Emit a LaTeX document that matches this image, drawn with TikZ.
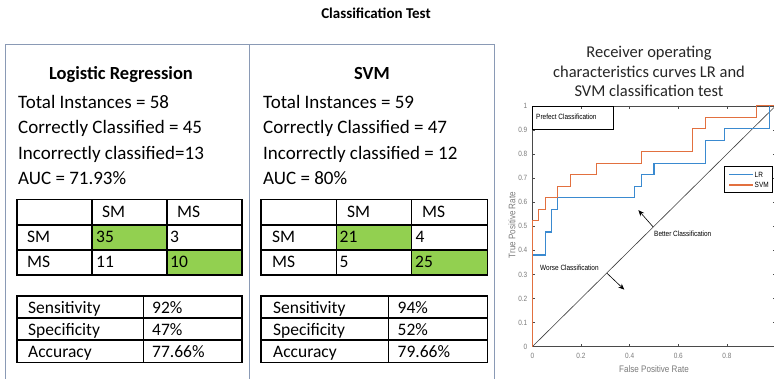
\documentclass[tikz,border=0pt]{standalone}
\usepackage{fontspec}
\setmainfont{Carlito}
\newfontfamily\plotfont[FakeStretch=0.85]{Liberation Sans}
\usetikzlibrary{arrows.meta}
\definecolor{framecol}{HTML}{8A9AB5}
\definecolor{cellgreen}{HTML}{92D050}
\definecolor{lrblue}{HTML}{3A8AD0}
\definecolor{svmorange}{HTML}{E2703F}
\definecolor{tickgray}{HTML}{7A7A7A}
\definecolor{axisgray}{HTML}{4A4A4A}
\begin{document}
\begin{tikzpicture}[x=1pt,y=-1pt,
  body/.style={anchor=base west, inner sep=0, font=\fontsize{19}{22}\selectfont},
  headtxt/.style={anchor=base, inner sep=0, font=\bfseries\fontsize{18.5}{22}\selectfont},
  celltxt/.style={anchor=base west, inner sep=0, font=\fontsize{17.5}{20}\selectfont},
  grid/.style={line width=1.2pt, black},
  small/.style={inner sep=0, font=\plotfont\fontsize{7.6}{9}\selectfont},
  ticklab/.style={small, text=tickgray},
  axislab/.style={inner sep=0, text=tickgray, font=\plotfont\fontsize{9.5}{11}\selectfont},
  arr/.style={line width=0.6pt, black, -{Stealth[length=6pt,width=5pt]}}]
\useasboundingbox (0,0) rectangle (774,379);
\fill[white] (0,0) rectangle (774,379);

% main title
\node[inner sep=0, font=\bfseries\fontsize{15}{18}\selectfont] (title) at (376,13) {Classification Test};

% outer frame
\draw[framecol, line width=1pt] (5,380) -- (5,45) -- (494,45) -- (494,380);
\draw[framecol, line width=1pt] (249.5,45) -- (249.5,380);

% ---------- Logistic Regression panel ----------
\node[headtxt] (lrhead) at (121,80) {Logistic Regression};
\node[body] (lr1) at (18,109) {Total Instances = 58};
\node[body] (lr2) at (18,134) {Correctly Classified = 45};
\node[body] (lr3) at (18,160) {Incorrectly classified=13};
\node[body] (lr4) at (18,185) {AUC = 71.93\%};

\fill[cellgreen] (92,225) rectangle (167,250);
\fill[cellgreen] (167,250) rectangle (242,275);
\draw[grid] (17,199.5) rectangle (242,275);
\draw[grid] (17,225) -- (242,225) (17,250) -- (242,250);
\draw[grid] (92,199.5) -- (92,275) (167,199.5) -- (167,275);
\node[celltxt] (lrh1) at (102,218) {SM};
\node[celltxt] (lrh2) at (177,218) {MS};
\node[celltxt] (lrr1) at (27,243) {SM};
\node[celltxt] (lrr2) at (27,268) {MS};
\node[celltxt] (lrc11) at (96,243) {35};
\node[celltxt] (lrc12) at (170,243) {3};
\node[celltxt] (lrc21) at (96,268) {11};
\node[celltxt] (lrc22) at (170,268) {10};

\draw[grid] (17,296) rectangle (242,362.5);
\draw[grid] (17,318) -- (242,318) (17,340) -- (242,340);
\draw[grid] (143.3,296) -- (143.3,362.5);
\node[celltxt] (lrs1) at (28,314) {Sensitivity};
\node[celltxt] (lrs2) at (28,336) {Specificity};
\node[celltxt] (lrs3) at (28,358) {Accuracy};
\node[celltxt] (lrv1) at (152,314) {92\%};
\node[celltxt] (lrv2) at (152,336) {47\%};
\node[celltxt] (lrv3) at (152,358) {77.66\%};

% ---------- SVM panel ----------
\node[headtxt] (svmhead) at (372,80) {SVM};
\node[body] (sv1) at (263,109) {Total Instances = 59};
\node[body] (sv2) at (263,134) {Correctly Classified = 47};
\node[body] (sv3) at (263,160) {Incorrectly classified = 12};
\node[body] (sv4) at (263,185) {AUC = 80\%};

\fill[cellgreen] (336.7,225) rectangle (411.7,250);
\fill[cellgreen] (411.7,250) rectangle (487.3,275);
\draw[grid] (261,199.5) rectangle (487.3,275);
\draw[grid] (261,225) -- (487.3,225) (261,250) -- (487.3,250);
\draw[grid] (336.7,199.5) -- (336.7,275) (411.7,199.5) -- (411.7,275);
\node[celltxt] (svh1) at (347,218) {SM};
\node[celltxt] (svh2) at (422,218) {MS};
\node[celltxt] (svr1) at (272,243) {SM};
\node[celltxt] (svr2) at (272,268) {MS};
\node[celltxt] (svc11) at (339.5,243) {21};
\node[celltxt] (svc12) at (415.5,243) {4};
\node[celltxt] (svc21) at (339.5,268) {5};
\node[celltxt] (svc22) at (415,268) {25};

\draw[grid] (261,296) rectangle (487.3,362.5);
\draw[grid] (261,318) -- (487.3,318) (261,340) -- (487.3,340);
\draw[grid] (388.3,296) -- (388.3,362.5);
\node[celltxt] (svs1) at (273,314) {Sensitivity};
\node[celltxt] (svs2) at (273,336) {Specificity};
\node[celltxt] (svs3) at (273,358) {Accuracy};
\node[celltxt] (svv1) at (397.5,314) {94\%};
\node[celltxt] (svv2) at (397.5,336) {52\%};
\node[celltxt] (svv3) at (397.5,358) {79.66\%};

% ---------- ROC plot ----------
\node[align=center, inner sep=0, text=black!85, font=\fontsize{16.5}{19.5}\selectfont] (roctitle) at (649,71.5)
  {Receiver operating\\characteristics curves LR and\\SVM classification test};

\begin{scope}[shift={(532.3,346.7)}, x=243.3pt, y=240.8pt]
  % axes box
  \draw[axisgray, line width=0.6pt] (0,0) rectangle (1,1);
  % ticks
  \foreach \t in {0.2,0.4,0.6,0.8} {
    \draw[axisgray, line width=0.5pt] (\t,0) -- ++(0,0.012);
    \draw[axisgray, line width=0.5pt] (\t,1) -- ++(0,-0.012);
  }
  \foreach \t in {0.1,0.2,...,0.95} {
    \draw[axisgray, line width=0.5pt] (0,\t) -- ++(0.012,0);
    \draw[axisgray, line width=0.5pt] (1,\t) -- ++(-0.012,0);
  }
  % tick labels
  \foreach \t/\l in {0/0,0.2/0.2,0.4/0.4,0.6/0.6,0.8/0.8}
    \node[ticklab, anchor=north] (xl\l) at (\t,-0.025) {\l};
  \foreach \t/\l in {0/0,0.1/0.1,0.2/0.2,0.3/0.3,0.4/0.4,0.5/0.5,0.6/0.6,0.7/0.7,0.8/0.8,0.9/0.9,1/1}
    \node[ticklab, anchor=east] (yl\l) at (-0.02,\t) {\l};
  % diagonal
  \coordinate (o) at (0,0);
  \coordinate (one) at (1,1);
  \draw[black!75, line width=0.6pt] (o) -- (one);
  % LR curve
  \draw[lrblue, line width=1.1pt] (0,0) -- (0,8/21) -- (2/38,8/21) -- (2/38,10/21) -- (3/38,10/21)
    -- (3/38,12/21) -- (4/38,12/21) -- (4/38,13/21) -- (16/38,13/21) -- (16/38,14/21)
    -- (17/38,14/21) -- (17/38,15/21) -- (19/38,15/21) -- (19/38,16/21) -- (27/38,16/21)
    -- (27/38,18/21) -- (30/38,18/21) -- (30/38,19/21) -- (37/38,19/21) -- (37/38,1) -- (1,1);
  % SVM curve
  \draw[svmorange, line width=1.1pt] (0,0) -- (0,11/21) -- (1/38,11/21) -- (1/38,12/21) -- (2/38,12/21)
    -- (2/38,13/21) -- (4/38,13/21) -- (4/38,14/21) -- (6/38,14/21) -- (6/38,15/21)
    -- (10/38,15/21) -- (10/38,16/21) -- (17/38,16/21) -- (17/38,17/21) -- (25/38,17/21)
    -- (25/38,19/21) -- (27/38,19/21) -- (27/38,20/21) -- (35/38,20/21) -- (35/38,1) -- (1,1);
  % arrows
  \coordinate (bs) at (0.497,0.497);
  \coordinate (be) at (0.436,0.567);
  \coordinate (ws) at (0.306,0.306);
  \coordinate (we) at (0.378,0.237);
  \draw[arr] (bs) -- (be);
  \draw[arr] (ws) -- (we);
\end{scope}

% axis labels
\node[axislab] (xlabel) at (654,369.5) {False Positive Rate};
\node[axislab, rotate=90] (ylabel) at (512,225) {True Positive Rate};

% perfect classification box
\draw[black, line width=0.8pt] (532.3,106) rectangle (613,129.3);
\node[small, anchor=west] (perf) at (536,116.5) {Prefect Classification};

% annotations
\node[small, anchor=west] (better) at (654,233.5) {Better Classification};
\node[small, anchor=west] (worse) at (540,267.5) {Worse Classification};

% legend
\draw[draw=black, fill=white, line width=0.8pt] (724.3,166) rectangle (772.7,192.5);
\coordinate (lra) at (729,174.5);
\coordinate (lrb) at (753,174.5);
\coordinate (sva) at (729,185);
\coordinate (svb) at (753,185);
\draw[lrblue, line width=1.1pt] (lra) -- (lrb);
\draw[svmorange, line width=1.1pt] (sva) -- (svb);
\node[small, anchor=west] (leglr) at (754.5,174.5) {LR};
\node[small, anchor=west] (legsvm) at (754.5,185) {SVM};
\end{tikzpicture}
\end{document}
